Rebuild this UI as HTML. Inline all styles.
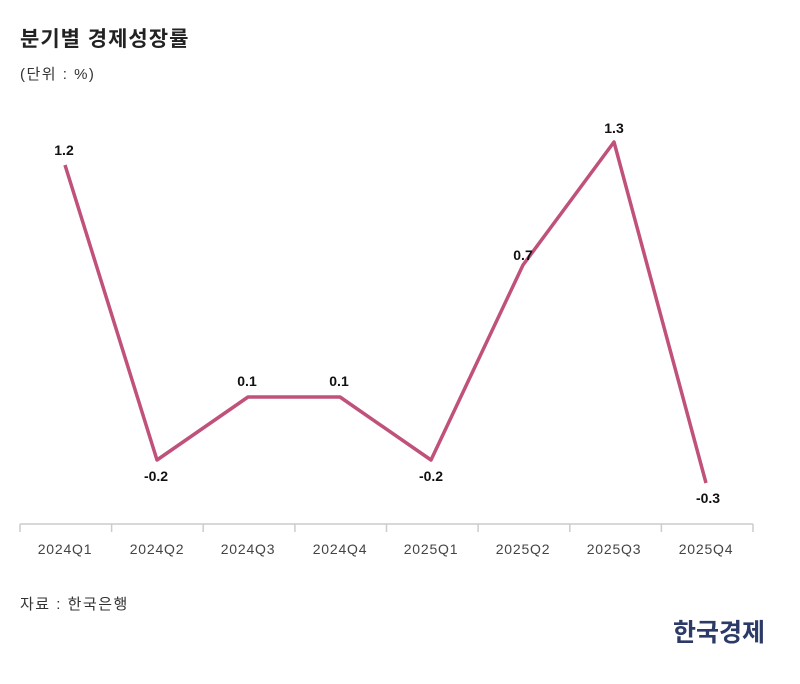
<!DOCTYPE html>
<html><head><meta charset="utf-8"><style>
body{margin:0;background:#fff;width:800px;height:679px;overflow:hidden}
svg text{font-family:"Liberation Sans","Noto Sans CJK KR",sans-serif}
</style></head><body>
<svg width="800" height="679" viewBox="0 0 800 679">
<text x="20" y="46" font-size="21" font-weight="bold" fill="#222" letter-spacing="1">분기별 경제성장률</text>
<text x="20" y="79" font-size="15" fill="#333" letter-spacing="1.5">(단위 : %)</text>
<g stroke="#ccc" stroke-width="1.5" fill="none">
<line x1="20" y1="524" x2="753" y2="524"/>
<path d="M20 524v8M111.6 524v8M203.2 524v8M294.9 524v8M386.5 524v8M478.1 524v8M569.8 524v8M661.4 524v8M753 524v8"/>
</g>
<g font-size="14" fill="#444" text-anchor="middle" letter-spacing="0.8">
<text x="65" y="554">2024Q1</text><text x="157" y="554">2024Q2</text><text x="248" y="554">2024Q3</text><text x="340" y="554">2024Q4</text>
<text x="431" y="554">2025Q1</text><text x="523" y="554">2025Q2</text><text x="614" y="554">2025Q3</text><text x="706" y="554">2025Q4</text>
</g>
<polyline points="65,165 157,460 248,397 340,397 431,460 523,265 614,142 706,483" fill="none" stroke="#c0517a" stroke-width="3.5" stroke-linejoin="round"/>
<g font-size="14" font-weight="bold" fill="#111" text-anchor="middle">
<text x="64" y="155">1.2</text><text x="156" y="481">-0.2</text><text x="247" y="386">0.1</text><text x="339" y="386">0.1</text>
<text x="431" y="481">-0.2</text><text x="523" y="260">0.7</text><text x="614" y="133">1.3</text><text x="708" y="503">-0.3</text>
</g>
<text x="20" y="609" font-size="15" fill="#333" letter-spacing="1.5">자료 : 한국은행</text>
<text x="765" y="641" font-size="25" font-weight="bold" fill="#2b3a67" text-anchor="end" font-family="Noto Serif CJK SC,serif">한국경제</text>
</svg>
</body></html>
